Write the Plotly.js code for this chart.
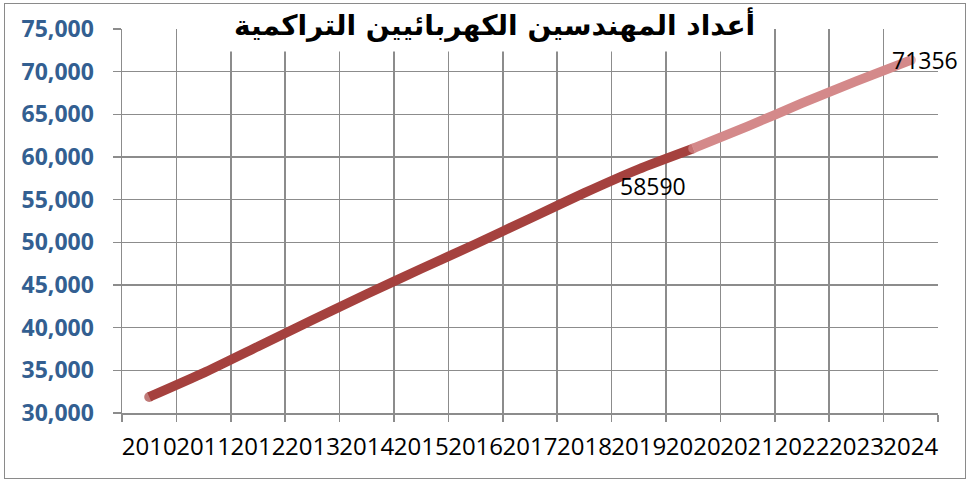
<!DOCTYPE html>
<html>
<head>
<meta charset="utf-8">
<script src="https://cdn.plot.ly/plotly-3.0.1.min.js"></script>
<style>
  html, body { margin: 0; padding: 0; background: #fff; }
  #wrap { position: relative; width: 969px; height: 483px; }
  #chart { width: 969px; height: 483px; }
  #frame { position: absolute; left: 4px; top: 3px; width: 960px; height: 474px;
           border: 1.5px solid #8a8a8a; pointer-events: none; }
</style>
</head>
<body>
<div id="wrap"><div id="chart"></div><div id="frame"></div></div>
<script>
// ---- data ----
const years = ['2010','2011','2012','2013','2014','2015','2016','2017','2018','2019','2020','2021','2022','2023','2024'];
const actualYears = ['2010','2011','2012','2013','2014','2015','2016','2017','2018','2019','2020'];
const actualValues = [31880, 34700, 37800, 40900, 43950, 46900, 49800, 52800, 55800, 58590, 61000];
const projectedYears = ['2020','2021','2022','2023','2024'];
const projectedValues = [61000, 63600, 66300, 68900, 71356];
const labelYears = ['2019', '2024'];
const titleText = 'أعداد المهندسين الكهربائيين التراكمية';

// ---- styles ----
const darkRed = '#A5413E';
const pink = '#D4898A';
const gridCol = '#8c8c8c';
const numFont = 'Open Sans, Liberation Sans, sans-serif';

function valueOf(yr) {
  let i = projectedYears.indexOf(yr);
  if (i >= 0) return projectedValues[i];
  i = actualYears.indexOf(yr);
  return actualValues[i];
}

const traces = [
  {
    x: actualYears, y: actualValues, type: 'scatter', mode: 'lines+markers',
    line: { color: darkRed, width: 9.5, shape: 'spline', smoothing: 0.5 },
    marker: { color: darkRed, line: { width: 0 }, size: actualYears.map((d, i) => i === 0 ? 10 : 0) },
    hoverinfo: 'skip', showlegend: false
  },
  {
    x: projectedYears, y: projectedValues, type: 'scatter', mode: 'lines+markers',
    line: { color: pink, width: 9.5, shape: 'spline', smoothing: 0.5 },
    marker: { color: pink, line: { width: 0 }, size: projectedYears.map((d, i) => (i === 0 || i === projectedYears.length - 1) ? 10 : 0) },
    hoverinfo: 'skip', showlegend: false
  }
];

const shifts = { '2019': [14, -17], '2024': [14, 0] };
const annotations = labelYears.map(yr => ({
  x: years.indexOf(yr), y: valueOf(yr), xref: 'x', yref: 'y', text: String(valueOf(yr)),
  showarrow: false, xshift: shifts[yr][0], yshift: shifts[yr][1],
  font: { family: numFont, size: 23, color: '#000' }
}));
annotations.push({
  xref: 'paper', yref: 'paper', x: 0.456, y: 1.0, yshift: 5, xanchor: 'center', yanchor: 'middle',
  text: '<b>' + titleText + '</b>', showarrow: false,
  bgcolor: '#ffffff', borderpad: 9,
  font: { family: 'DejaVu Sans, sans-serif', size: 28, color: '#000' }
});

const layout = {
  width: 969, height: 483,
  margin: { l: 122, r: 31, t: 29, b: 70 },
  paper_bgcolor: '#fff', plot_bgcolor: '#fff',
  showlegend: false,
  xaxis: {
    type: 'category', categoryorder: 'array', categoryarray: years,
    range: [-0.5, years.length - 0.5],
    tickson: 'boundaries', ticks: 'outside', ticklen: 7, tickwidth: 1.5, tickcolor: gridCol,
    showgrid: true, gridcolor: gridCol, gridwidth: 1.5,
    showline: true, linecolor: gridCol, linewidth: 1.5,
    tickfont: { family: numFont, size: 24, color: '#000' },
    tickangle: 0,
    ticklabelstandoff: 12,
    zeroline: false, fixedrange: true
  },
  yaxis: {
    range: [30000, 75000], dtick: 5000, tick0: 30000, tickformat: ',d',
    ticks: 'outside', ticklen: 8, tickwidth: 1.5, tickcolor: gridCol,
    showgrid: true, gridcolor: gridCol, gridwidth: 1.5,
    showline: true, linecolor: gridCol, linewidth: 1.5,
    tickfont: { family: numFont, size: 23, color: '#335F91', weight: 'bold' },
    ticklabelstandoff: 14,
    zeroline: false, fixedrange: true
  },
  annotations: annotations
};

Plotly.newPlot('chart', traces, layout, { displayModeBar: false, staticPlot: true });
</script>
</body>
</html>
